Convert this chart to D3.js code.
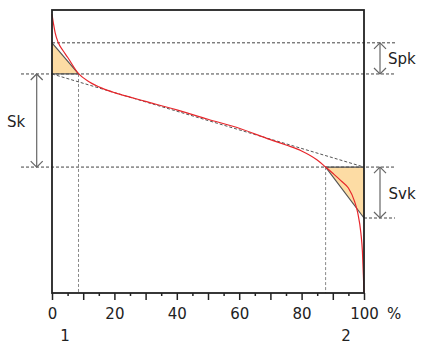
<!DOCTYPE html>
<html>
<head>
<meta charset="utf-8">
<script src="https://cdn.jsdelivr.net/npm/d3@7"></script>
<style>
  body { margin: 0; background: #fff; }
  svg text { font-family: "DejaVu Sans", Verdana, sans-serif; font-size: 15px; fill: #222; }
</style>
</head>
<body>
<svg id="chart" width="427" height="352"></svg>
<script>
// bearing area curve (material ratio %, height in arbitrary units 0..100)
var mrValues = [0, 0.5, 1, 2, 3.5, 5, 8.5, 12, 16, 20, 25, 30, 40, 50, 60, 70, 75, 80, 85, 87.7, 90, 93, 95, 97, 98, 99, 99.5, 99.8, 100];
var heights  = [98.5, 95, 92, 88.5, 85.7, 83.3, 77.5, 74.6, 72.4, 70.8, 69.2, 67.7, 64.7, 61.4, 58.2, 54.2, 52.3, 50.2, 47, 44.5, 42.3, 39.3, 37.1, 32.3, 28.3, 21.2, 14.5, 6.4, 0];

// material ratios Mr1, Mr2 and the levels: Spk top, Sk top, Sk bottom, Svk bottom
var mrPoints = [8.5, 87.7];
var mrLabels = ["1", "2"];
var levels = [88.4, 77.4, 44.5, 26.5];
var xTicks = [0, 10, 20, 30, 40, 50, 60, 70, 80, 90, 100];
var xMinor = [5, 15, 25, 35, 45, 55, 65, 75, 85, 95];

var svg = d3.select("#chart");
var x = d3.scaleLinear().domain([0, 100]).range([52, 364]);
var y = d3.scaleLinear().domain([0, 100]).range([293, 10]);

var dash = "3,2";

// triangles
var tri1 = [[0, levels[0]], [mrPoints[0], levels[1]], [0, levels[1]]];
var tri2 = [[mrPoints[1], levels[2]], [100, levels[2]], [100, levels[3]]];
[tri1, tri2].forEach(function(t) {
  svg.append("path")
    .attr("d", "M" + t.map(function(p) { return x(p[0]) + "," + y(p[1]); }).join("L") + "Z")
    .attr("fill", "#fddca4")
    .attr("stroke", "none");
});

// horizontal level lines
svg.append("line").attr("x1", x(0)).attr("x2", 395).attr("y1", y(levels[0])).attr("y2", y(levels[0]))
  .attr("stroke", "#444").attr("stroke-dasharray", dash);
svg.append("line").attr("x1", 21).attr("x2", 395).attr("y1", y(levels[1])).attr("y2", y(levels[1]))
  .attr("stroke", "#444").attr("stroke-dasharray", dash);
svg.append("line").attr("x1", 21).attr("x2", 395).attr("y1", y(levels[2])).attr("y2", y(levels[2]))
  .attr("stroke", "#444").attr("stroke-dasharray", dash);
svg.append("line").attr("x1", x(100)).attr("x2", 395).attr("y1", y(levels[3])).attr("y2", y(levels[3]))
  .attr("stroke", "#444").attr("stroke-dasharray", dash);

// vertical Mr lines
svg.append("line").attr("x1", x(mrPoints[0])).attr("x2", x(mrPoints[0])).attr("y1", y(levels[1])).attr("y2", y(0))
  .attr("stroke", "#888").attr("stroke-dasharray", dash);
svg.append("line").attr("x1", x(mrPoints[1])).attr("x2", x(mrPoints[1])).attr("y1", y(levels[2])).attr("y2", y(0))
  .attr("stroke", "#888").attr("stroke-dasharray", dash);

// equivalent straight line
svg.append("line").attr("x1", x(0)).attr("x2", x(100)).attr("y1", y(levels[1])).attr("y2", y(levels[2]))
  .attr("stroke", "#555").attr("stroke-dasharray", dash);

// solid triangle edges
svg.append("path")
  .attr("d", "M" + x(0) + "," + y(levels[0]) + "L" + x(mrPoints[0]) + "," + y(levels[1]) + "L" + x(0) + "," + y(levels[1]))
  .attr("fill", "none").attr("stroke", "#555").attr("stroke-width", 1.2);
svg.append("path")
  .attr("d", "M" + x(100) + "," + y(levels[3]) + "L" + x(mrPoints[1]) + "," + y(levels[2]) + "L" + x(100) + "," + y(levels[2]))
  .attr("fill", "none").attr("stroke", "#555").attr("stroke-width", 1.2);

// red curve
var line = d3.line()
  .x(function(d, i) { return x(d); })
  .y(function(d, i) { return y(heights[i]); })
  .curve(d3.curveMonotoneX);
svg.append("path")
  .datum(mrValues)
  .attr("d", line)
  .attr("fill", "none")
  .attr("stroke", "#e8262b")
  .attr("stroke-width", 1.2);

// axes
var major = d3.axisBottom(x).tickValues(xTicks).tickSize(7).tickPadding(8.5)
  .tickFormat(function(d) { return d % 20 === 0 ? d : ""; });
var minor = d3.axisBottom(x).tickValues(xMinor).tickSize(3).tickFormat("");

var gMajor = svg.append("g").attr("transform", "translate(0," + y(0) + ")").call(major);
var gMinor = svg.append("g").attr("transform", "translate(0," + y(0) + ")").call(minor);
[gMajor, gMinor].forEach(function(g) {
  g.select(".domain").remove();
  g.selectAll("line").attr("stroke", "#222").attr("stroke-width", 1.5);
  g.selectAll("text").attr("font-family", null).attr("font-size", null).attr("fill", null);
});
gMajor.selectAll("text").style("font-size", "15px");

// frame
svg.append("rect")
  .attr("x", x(0)).attr("y", y(100))
  .attr("width", x(100) - x(0)).attr("height", y(0) - y(100))
  .attr("fill", "none").attr("stroke", "#222").attr("stroke-width", 1.8);

svg.append("text").attr("x", 387).attr("y", 319.3).text("%");

// Mr labels
svg.selectAll(".mrlab")
  .data(mrLabels)
  .enter().append("text")
  .attr("class", "mrlab")
  .attr("x", function(d, i) { return i === 0 ? 65 : 346; })
  .attr("y", 340.7)
  .attr("text-anchor", "middle")
  .text(function(d) { return d; });

// double arrows
function arrow(ax, y1, y2) {
  svg.append("line").attr("x1", ax).attr("x2", ax).attr("y1", y1).attr("y2", y2)
    .attr("stroke", "#666").attr("stroke-width", 1.2);
  svg.append("path")
    .attr("d", "M" + (ax - 6) + "," + (y1 + 6) + "L" + ax + "," + y1 + "L" + (ax + 6) + "," + (y1 + 6))
    .attr("fill", "none").attr("stroke", "#666").attr("stroke-width", 1.2);
  svg.append("path")
    .attr("d", "M" + (ax - 6) + "," + (y2 - 6) + "L" + ax + "," + y2 + "L" + (ax + 6) + "," + (y2 - 6))
    .attr("fill", "none").attr("stroke", "#666").attr("stroke-width", 1.2);
}
arrow(36.7, y(levels[1]), y(levels[2]));
arrow(380, y(levels[0]), y(levels[1]));
arrow(380, y(levels[2]), y(levels[3]));

svg.append("text").attr("x", 7).attr("y", 126.7).text("Sk");
svg.append("text").attr("x", 388).attr("y", 64).text("Spk");
svg.append("text").attr("x", 388.5).attr("y", 199).text("Svk");
</script>
</body>
</html>
